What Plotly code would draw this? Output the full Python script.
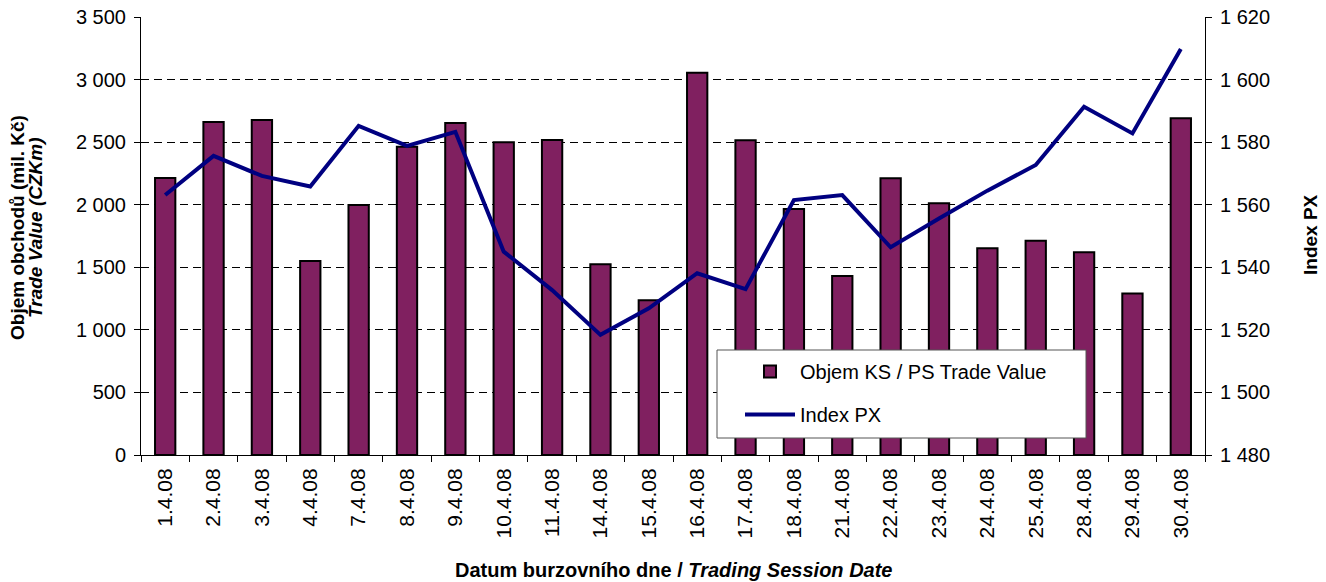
import plotly.graph_objects as go

dates = ["1.4.08", "2.4.08", "3.4.08", "4.4.08", "7.4.08", "8.4.08", "9.4.08",
         "10.4.08", "11.4.08", "14.4.08", "15.4.08", "16.4.08", "17.4.08", "18.4.08",
         "21.4.08", "22.4.08", "23.4.08", "24.4.08", "25.4.08", "28.4.08", "29.4.08", "30.4.08"]
trade_value = [2213, 2661, 2677, 1550, 1998, 2464, 2653, 2499, 2517, 1524, 1236,
               3055, 2515, 1966, 1430, 2211, 2011, 1652, 1712, 1620, 1290, 2690]
index_px = [1563.1, 1575.6, 1569.2, 1565.8, 1585.2, 1578.8, 1583.3, 1545.0, 1532.7,
            1518.4, 1526.9, 1538.1, 1533.0, 1561.5, 1563.1, 1546.4, 1555.6, 1564.5,
            1572.7, 1591.3, 1582.8, 1609.8]

left_range = [0, 3500]
right_range = [1480, 1620]

FONT = "Liberation Sans, Arial, sans-serif"
L, R, T, B = 141, 121, 17, 127
W, H = 1326, 582
PW, PH = W - L - R, H - T - B


def px_x(x):
    return (x - L) / PW


def px_y(y):
    return (H - B - y) / PH


fig = go.Figure()
fig.add_trace(go.Bar(
    x=dates, y=trade_value, name="Objem KS / PS Trade Value",
    marker=dict(color="#802060", line=dict(color="black", width=2)),
    width=0.42, yaxis="y", legendgroup="a",
))
fig.add_trace(go.Scatter(
    x=dates, y=index_px, name="Index PX", mode="lines",
    line=dict(color="#000080", width=4), yaxis="y2", legendgroup="b",
))

tick_common = dict(showline=True, linecolor="black", linewidth=1,
                   ticks="outside", ticklen=6, tickcolor="black",
                   automargin=False)

fig.update_layout(
    width=W, height=H,
    margin=dict(l=L, r=R, t=T, b=B),
    paper_bgcolor="white", plot_bgcolor="white",
    separators=", ",
    font=dict(family=FONT, size=20, color="black"),
    showlegend=True,
    legend=dict(
        x=px_x(740), y=px_y(352), xanchor="left", yanchor="top",
        bgcolor="rgba(0,0,0,0)", borderwidth=0,
        font=dict(size=20), traceorder="grouped", tracegroupgap=14,
        itemwidth=50,
    ),
    xaxis=dict(
        type="category", tickangle=-90, tickson="boundaries", showgrid=False,
        tickfont=dict(size=21), ticklabelstandoff=4, **tick_common,
    ),
    yaxis=dict(
        range=left_range, dtick=500, tickformat=",d",
        showgrid=True, gridcolor="black", griddash="8px,5px", gridwidth=1,
        zeroline=False, tickfont=dict(size=20), ticklabelstandoff=4, **tick_common,
    ),
    yaxis2=dict(
        range=right_range, dtick=20, tickformat=",d", overlaying="y", side="right",
        showgrid=False, zeroline=False, tickfont=dict(size=20), ticklabelstandoff=4,
        **tick_common,
    ),
    yaxis3=dict(
        range=left_range, dtick=500, overlaying="y", side="left",
        showticklabels=False, showgrid=False, zeroline=False, showline=False,
        ticks="inside", ticklen=5, tickcolor="black",
    ),
    yaxis4=dict(
        range=right_range, dtick=20, overlaying="y", side="right",
        showticklabels=False, showgrid=False, zeroline=False, showline=False,
        ticks="inside", ticklen=5, tickcolor="black",
    ),
    shapes=[dict(
        type="rect", xref="paper", yref="paper",
        x0=px_x(717), x1=px_x(1086), y0=px_y(438), y1=px_y(350),
        fillcolor="white", line=dict(color="#555", width=1), layer="above",
    )],
    annotations=[
        dict(text="<b>Datum burzovního dne / <i>Trading Session Date</i></b>",
             xref="paper", yref="paper", x=0.5, y=px_y(570),
             xanchor="center", yanchor="middle", showarrow=False,
             font=dict(size=20)),
        dict(text="<b>Objem obchodů (mil. Kč)</b>",
             xref="paper", yref="paper", x=px_x(17), y=px_y(228),
             xanchor="center", yanchor="middle", showarrow=False,
             textangle=-90, font=dict(size=19)),
        dict(text="<b><i>Trade Value (CZKm)</i></b>",
             xref="paper", yref="paper", x=px_x(35), y=px_y(228),
             xanchor="center", yanchor="middle", showarrow=False,
             textangle=-90, font=dict(size=19)),
        dict(text="<b>Index PX</b>",
             xref="paper", yref="paper", x=px_x(1310), y=px_y(235),
             xanchor="center", yanchor="middle", showarrow=False,
             textangle=-90, font=dict(size=19)),
    ],
)

fig.write_html("out.html", config={"displayModeBar": False},
               post_script="document.body.style.margin='0';")
